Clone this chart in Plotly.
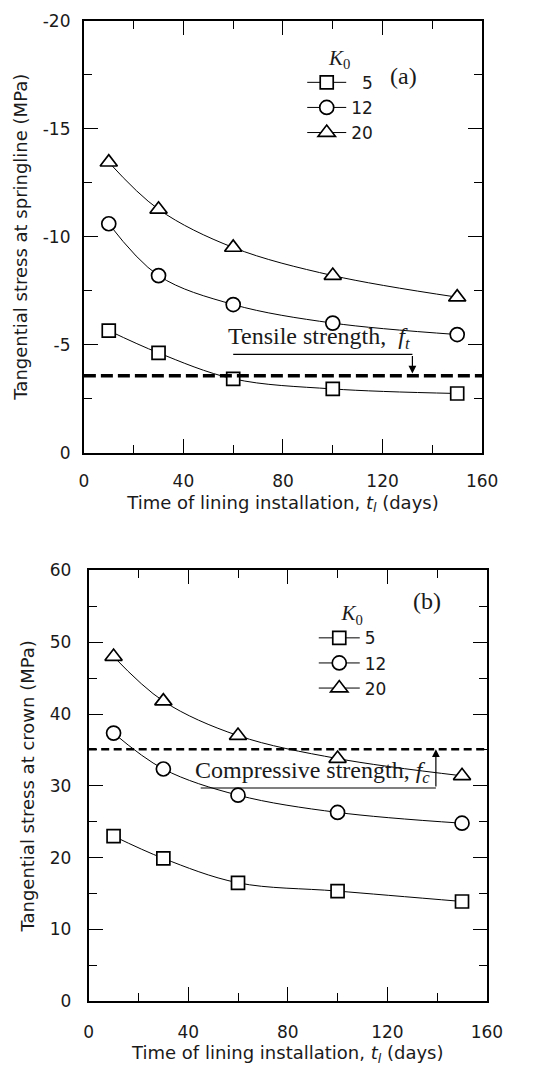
import plotly.graph_objects as go

# ---------------- data ----------------
t_days = [10, 30, 60, 100, 150]
k0_labels_a = ["\u20075", "12", "20"]
k0_labels_b = ["5", "12", "20"]

# (a) tangential stress at springline (MPa)
spring_k5 = [-5.65, -4.62, -3.42, -2.95, -2.74]
spring_k12 = [-10.6, -8.2, -6.86, -6.0, -5.47]
spring_k20 = [-13.45, -11.27, -9.5, -8.2, -7.2]
tensile_strength = -3.56

# (b) tangential stress at crown (MPa)
crown_k5 = [23.0, 19.9, 16.5, 15.35, 13.9]
crown_k12 = [37.35, 32.35, 28.7, 26.3, 24.8]
crown_k20 = [48.0, 41.8, 37.0, 33.8, 31.4]
compressive_strength = 35.1

x_range = [0, 160]
x_ticks = [0, 40, 80, 120, 160]
ya_ticks = [-20, -15, -10, -5, 0]
yb_ticks = [0, 10, 20, 30, 40, 50, 60]

W, H = 551, 1080
SANS = "DejaVu Sans, Liberation Sans, Arial, sans-serif"
SERIF = "Liberation Serif, Times New Roman, serif"
TXT = "#1a1a1a"
symbols = ["square", "circle", "triangle-up"]
sizes = [13, 14, 15]

fig = go.Figure()

def add_series(xa, ya, series, labels, legend):
    for lab, vals, sym, sz in zip(labels, series, symbols, sizes):
        fig.add_trace(go.Scatter(
            x=t_days, y=vals, mode="lines+markers", name=lab,
            xaxis=xa, yaxis=ya, legend=legend,
            line=dict(color="black", width=1, shape="spline", smoothing=1.0),
            marker=dict(symbol=sym, size=sz, color="white",
                        line=dict(color="black", width=1.7)),
        ))

add_series("x", "y", [spring_k5, spring_k12, spring_k20], k0_labels_a, "legend")
add_series("x2", "y2", [crown_k5, crown_k12, crown_k20], k0_labels_b, "legend2")

# strength lines
fig.add_trace(go.Scatter(x=x_range, y=[tensile_strength] * 2, mode="lines",
                         xaxis="x", yaxis="y", showlegend=False,
                         line=dict(color="black", width=3.5, dash="12px,5px")))
fig.add_trace(go.Scatter(x=x_range, y=[compressive_strength] * 2, mode="lines",
                         xaxis="x2", yaxis="y2", showlegend=False,
                         line=dict(color="black", width=2.5, dash="8px,4.5px")))

axis_common = dict(
    showline=True, linecolor="black", linewidth=2, mirror="ticks",
    ticks="inside", ticklen=14, tickwidth=1.3, tickcolor="black",
    showgrid=False, zeroline=False,
    tickfont=dict(family=SANS, size=17, color=TXT),
    minor=dict(ticks="inside", ticklen=8, tickwidth=1.3, tickcolor="black", showgrid=False),
)

xtitle = "Time of lining installation, <i>t<sub>l</sub></i> (days)"
title_font = dict(family=SANS, size=18, color=TXT)

fig.update_layout(
    width=W, height=H, margin=dict(l=0, r=0, t=0, b=0),
    plot_bgcolor="white", paper_bgcolor="white",
    xaxis=dict(axis_common, domain=[82 / W, 496 / W], anchor="y", range=x_range,
               tickvals=x_ticks, ticklabelstandoff=12,
               minor=dict(axis_common["minor"], tickvals=[20, 60, 100, 140]),
               title=dict(text=xtitle, font=title_font, standoff=6)),
    yaxis=dict(axis_common, domain=[1 - 451 / H, 1 - 11 / H], anchor="x", range=[0, -20],
               tickvals=ya_ticks, ticktext=[str(v) for v in ya_ticks], ticklabelstandoff=8,
               minor=dict(axis_common["minor"], tickvals=[-17.5, -12.5, -7.5, -2.5]),
               title=dict(text="Tangential stress at springline (MPa)",
                          font=title_font, standoff=10)),
    xaxis2=dict(axis_common, domain=[87 / W, 501 / W], anchor="y2", range=x_range,
                tickvals=x_ticks, ticklabelstandoff=14,
                minor=dict(axis_common["minor"], tickvals=[20, 60, 100, 140]),
                title=dict(text=xtitle, font=title_font, standoff=6)),
    yaxis2=dict(axis_common, domain=[1 - 1010 / H, 1 - 571 / H], anchor="x2", range=[0, 60],
                tickvals=yb_ticks, ticklabelstandoff=12,
                minor=dict(axis_common["minor"], tickvals=[5, 15, 25, 35, 45, 55]),
                title=dict(text="Tangential stress at crown (MPa)",
                           font=title_font, standoff=10)),
    legend=dict(x=309 / W, y=1 - 28 / H, xanchor="left", yanchor="top",
                bgcolor="rgba(0,0,0,0)", font=dict(family=SANS, size=17, color=TXT),
                title=dict(text="<i>K</i><sub>0</sub>", side="top center",
                           font=dict(family=SERIF, size=21, color=TXT)),
                itemwidth=39),
    legend2=dict(x=321 / W, y=1 - 594 / H, xanchor="left", yanchor="top",
                 bgcolor="rgba(0,0,0,0)", font=dict(family=SANS, size=17, color=TXT),
                 title=dict(text="<i>K</i><sub>0</sub>", side="top center",
                            font=dict(family=SERIF, size=21, color=TXT)),
                 itemwidth=41),
)

# panel labels
fig.add_annotation(text="(a)", xref="paper", yref="paper", x=430 / W, y=1 - 52 / H,
                   showarrow=False, font=dict(family=SERIF, size=24, color=TXT))
fig.add_annotation(text="(b)", xref="paper", yref="paper", x=455 / W, y=1 - 602 / H,
                   showarrow=False, font=dict(family=SERIF, size=24, color=TXT))

# tensile strength callout (a)
fig.add_annotation(text="Tensile strength,  <i>f<sub>t</sub></i>", xref="x", yref="y",
                   x=94.5, y=-4.55, yanchor="bottom", yshift=-1, showarrow=False,
                   font=dict(family=SERIF, size=24, color=TXT))
fig.add_shape(type="line", xref="x", yref="y", x0=60, x1=132, y0=-4.55, y1=-4.55,
              line=dict(color="black", width=1.2))
fig.add_annotation(text="", xref="x", yref="y", axref="x", ayref="y",
                   x=132, y=tensile_strength - 0.1, ax=132, ay=-4.55,
                   showarrow=True, arrowhead=2, arrowsize=1.3, arrowwidth=1.2, arrowcolor="black")

# compressive strength callout (b)
fig.add_annotation(text="Compressive strength, <i>f<sub>c</sub></i>", xref="x2", yref="y2",
                   x=90, y=29.7, yanchor="bottom", yshift=-1, showarrow=False,
                   font=dict(family=SERIF, size=24, color=TXT))
fig.add_shape(type="line", xref="x2", yref="y2", x0=45, x1=139.5, y0=29.7, y1=29.7,
              line=dict(color="black", width=1.2))
fig.add_annotation(text="", xref="x2", yref="y2", axref="x2", ayref="y2",
                   x=139.5, y=compressive_strength, ax=139.5, ay=29.7,
                   showarrow=True, arrowhead=2, arrowsize=1.3, arrowwidth=1.2, arrowcolor="black")

fig.write_html("out.html")
